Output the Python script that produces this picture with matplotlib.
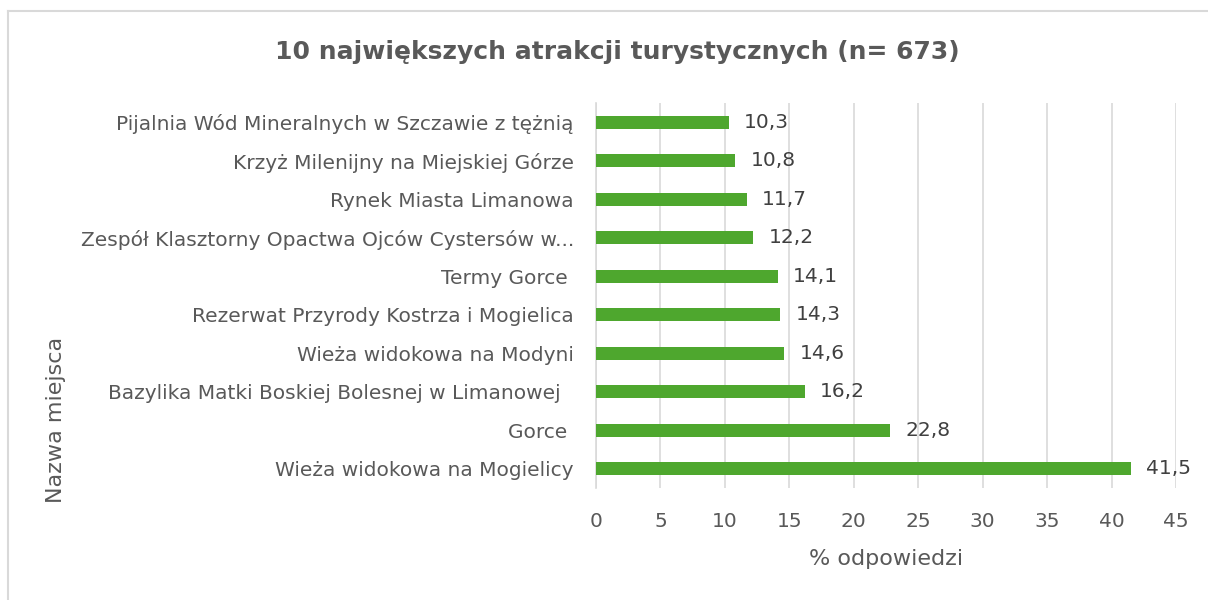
import matplotlib.pyplot as plt
from matplotlib.lines import Line2D

# dane z wykresu
miejsca = [
    "Wieża widokowa na Mogielicy",
    "Gorce ",
    "Bazylika Matki Boskiej Bolesnej w Limanowej  ",
    "Wieża widokowa na Modyni",
    "Rezerwat Przyrody Kostrza i Mogielica",
    "Termy Gorce ",
    "Zespół Klasztorny Opactwa Ojców Cystersów w...",
    "Rynek Miasta Limanowa",
    "Krzyż Milenijny na Miejskiej Górze",
    "Pijalnia Wód Mineralnych w Szczawie z tężnią",
]
procent = [41.5, 22.8, 16.2, 14.6, 14.3, 14.1, 12.2, 11.7, 10.8, 10.3]
x_ticks = [0, 5, 10, 15, 20, 25, 30, 35, 40, 45]

szary = "#595959"
zielony = "#4EA72E"

plt.rcParams['font.family'] = ['DejaVu Sans']

fig = plt.figure(figsize=(12.08, 6.0), dpi=100)
ax = fig.add_axes([0.4934, 0.1867, 0.4801, 0.6417])

y = range(len(miejsca))
ax.barh(y, procent, height=0.34, color=zielony, zorder=3)

for yi, v in zip(y, procent):
    ax.annotate(f"{v:.1f}".replace(".", ","), (v, yi), xytext=(11, 0),
                textcoords="offset points", va="center", ha="left",
                fontsize=14.5, color="#404040")

ax.set_xlim(0, 45)
ax.set_ylim(-0.5, len(miejsca) - 0.5)
ax.set_xticks(x_ticks)
ax.set_xticklabels([str(t) for t in x_ticks])
ax.set_yticks(list(y))
ax.set_yticklabels(miejsca)

ax.tick_params(axis='x', length=0, pad=17, labelsize=14.5, labelcolor=szary)
ax.tick_params(axis='y', length=0, pad=16, labelsize=14.5, labelcolor=szary)

for s in ['top', 'right', 'bottom']:
    ax.spines[s].set_visible(False)
ax.spines['left'].set_color("#d9d9d9")
ax.spines['left'].set_linewidth(1.2)
ax.grid(True, axis='x', color="#d9d9d9", linewidth=1.2, zorder=0)
ax.set_axisbelow(True)

ax.set_xlabel("% odpowiedzi", fontsize=16, color=szary, labelpad=13)

fig.text(0.511, 0.913, "10 największych atrakcji turystycznych (n= 673)",
         ha="center", va="center", fontsize=18, fontweight="bold", color=szary)
fig.text(0.046, 0.3, "Nazwa miejsca", rotation=90, ha="center", va="center",
         fontsize=16, color=szary)

# ramka wykresu (górna i lewa krawędź)
fig.add_artist(Line2D([0.0066, 1.0], [0.981, 0.981], transform=fig.transFigure,
                      color="#d9d9d9", linewidth=1.5))
fig.add_artist(Line2D([0.0066, 0.0066], [0.0, 0.981], transform=fig.transFigure,
                      color="#d9d9d9", linewidth=1.5))

fig.savefig("out.png", dpi=100)
